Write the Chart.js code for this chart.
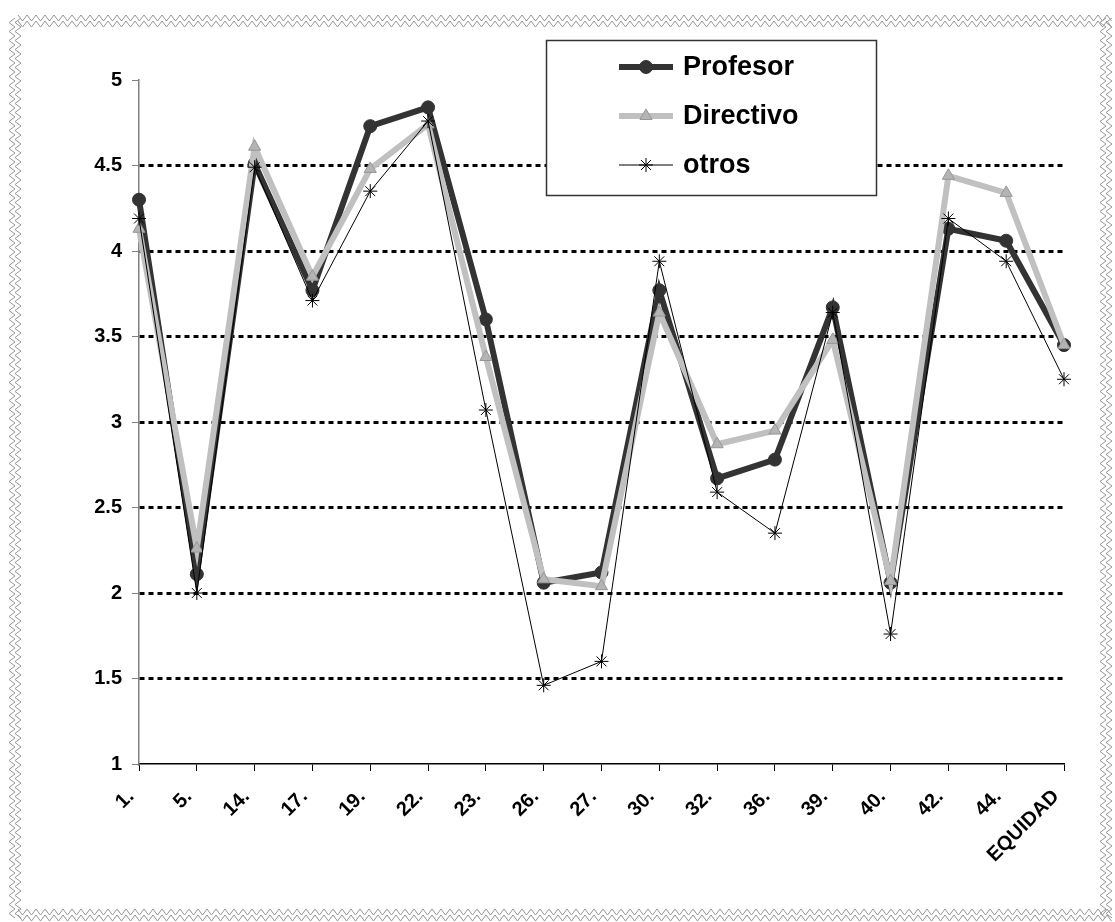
<!DOCTYPE html>
<html>
<head>
<meta charset="utf-8">
<script src="https://cdn.jsdelivr.net/npm/chart.js@4.4.0/dist/chart.umd.min.js"></script>
<style>
html,body{margin:0;padding:0;background:#fff;}
#wrap{position:relative;width:1115px;height:922px;}
</style>
</head>
<body>
<div id="wrap"><canvas id="c" width="1115" height="922"></canvas></div>
<script>
const categories = ["1.","5.","14.","17.","19.","22.","23.","26.","27.","30.","32.","36.","39.","40.","42.","44.","EQUIDAD"];
const profesor  = [4.30,2.11,4.51,3.77,4.73,4.84,3.60,2.06,2.12,3.77,2.67,2.78,3.67,2.06,4.13,4.06,3.45];
const directivo = [4.13,2.26,4.61,3.85,4.48,4.74,3.38,2.08,2.04,3.64,2.87,2.95,3.48,2.07,4.44,4.34,3.45];
const otros     = [4.19,2.00,4.49,3.71,4.35,4.76,3.07,1.46,1.60,3.94,2.59,2.35,3.64,1.76,4.19,3.94,3.25];
const yTicks = [1,1.5,2,2.5,3,3.5,4,4.5,5];

const FONT = "'Liberation Sans', Arial, sans-serif";

function zigzagLine(ctx, x0, y0, x1, y1, amp, period) {
  const dx = x1 - x0, dy = y1 - y0;
  const len = Math.hypot(dx, dy);
  const ux = dx / len, uy = dy / len;
  const nx = -uy, ny = ux;
  ctx.beginPath();
  let i = 0;
  for (let s = 0; s <= len; s += period / 2, i++) {
    const o = (i % 2 === 0 ? -amp : amp);
    const px = x0 + ux * s + nx * o, py = y0 + uy * s + ny * o;
    if (i === 0) ctx.moveTo(px, py); else ctx.lineTo(px, py);
  }
  ctx.stroke();
}

const borderPlugin = {
  id: 'zigzagBorder',
  beforeDraw(chart) {
    const ctx = chart.ctx;
    ctx.save();
    ctx.strokeStyle = '#959595';
    ctx.lineWidth = 1;
    [0, 6].forEach(off => {
      zigzagLine(ctx, 18, 18 + off, 1112, 18 + off, 3, 9);
      zigzagLine(ctx, 18, 912 + off, 1112, 912 + off, 3, 9);
      zigzagLine(ctx, 12 + off, 18, 12 + off, 920, 3, 9);
      zigzagLine(ctx, 1103 + off, 18, 1103 + off, 920, 3, 9);
    });
    ctx.restore();
  }
};

const legendPlugin = {
  id: 'boxLegend',
  afterDatasetsDraw(chart) {
    const ctx = chart.ctx;
    const bx = 546, by = 40, bw = 330, bh = 155;
    ctx.save();
    ctx.fillStyle = '#fff';
    ctx.fillRect(bx, by, bw, bh);
    ctx.strokeStyle = '#333';
    ctx.lineWidth = 1.5;
    ctx.strokeRect(bx + 0.5, by + 0.5, bw, bh);
    const rows = [67, 116, 165];
    chart.data.datasets.forEach((ds, i) => {
      const y = rows[i];
      ctx.strokeStyle = ds.borderColor;
      ctx.lineWidth = ds.borderWidth;
      ctx.beginPath();
      ctx.moveTo(619, y);
      ctx.lineTo(673, y);
      ctx.stroke();
      ctx.save();
      ctx.fillStyle = ds.pointBackgroundColor;
      ctx.strokeStyle = ds.pointBorderColor;
      ctx.lineWidth = ds.pointBorderWidth || 1;
      Chart.helpers.drawPoint(ctx, {pointStyle: ds.pointStyle, radius: ds.pointRadius, borderWidth: ds.pointBorderWidth || 1, rotation: 0}, 646, y);
      ctx.restore();
      ctx.fillStyle = '#000';
      ctx.font = "bold 27px " + FONT;
      ctx.textBaseline = 'middle';
      ctx.textAlign = 'left';
      ctx.fillText(ds.label, 683, y + 1);
    });
    ctx.restore();
  }
};

new Chart(document.getElementById('c'), {
  type: 'line',
  data: {
    labels: categories,
    datasets: [
      {
        label: 'Profesor', data: profesor,
        borderColor: '#333333', borderWidth: 6,
        pointStyle: 'circle', pointRadius: 6.5,
        pointBackgroundColor: '#333333', pointBorderColor: '#333333', pointBorderWidth: 1,
        tension: 0, order: 3
      },
      {
        label: 'Directivo', data: directivo,
        borderColor: '#c0c0c0', borderWidth: 6,
        pointStyle: 'triangle', pointRadius: 7,
        pointBackgroundColor: '#b4b4b4', pointBorderColor: '#969696', pointBorderWidth: 1,
        tension: 0, order: 2
      },
      {
        label: 'otros', data: otros,
        borderColor: '#000000', borderWidth: 1,
        pointStyle: 'star', pointRadius: 7,
        pointBackgroundColor: '#000000', pointBorderColor: '#000000', pointBorderWidth: 1,
        tension: 0, order: 1
      }
    ]
  },
  options: {
    responsive: false,
    animation: false,
    devicePixelRatio: 1,
    layout: { padding: { top: 80, right: 51, left: 0, bottom: 0 } },
    plugins: { legend: { display: false }, tooltip: { enabled: false }, title: { display: false } },
    scales: {
      x: {
        type: 'category',
        offset: false,
        grid: { drawOnChartArea: false, drawTicks: true, tickLength: 7, tickColor: '#000', tickWidth: 1 },
        border: { display: true, color: '#000', width: 1.5 },
        ticks: {
          autoSkip: false, maxRotation: 45, minRotation: 45,
          color: '#000', font: { family: FONT, size: 20, weight: 'bold' },
          padding: 14, labelOffset: -8
        },
        afterFit(scale) { scale.height = 158; }
      },
      y: {
        min: 1, max: 5,
        afterBuildTicks(scale) { scale.ticks = yTicks.map(v => ({ value: v })); },
        grid: {
          color: ctx => (ctx.tick && (ctx.tick.value === 1 || ctx.tick.value === 5)) ? 'rgba(0,0,0,0)' : '#000',
          lineWidth: 3,
          tickLength: 7, tickColor: '#808080', tickWidth: 1, tickBorderDash: [],
          drawTicks: true
        },
        border: { display: true, color: '#808080', width: 1.5, dash: [5, 4] },
        ticks: {
          color: '#000', font: { family: FONT, size: 20, weight: 'bold' },
          padding: 10,
          callback: v => String(v)
        },
        afterFit(scale) { scale.width = 139; }
      }
    }
  },
  plugins: [borderPlugin, legendPlugin]
});
</script>
</body>
</html>
